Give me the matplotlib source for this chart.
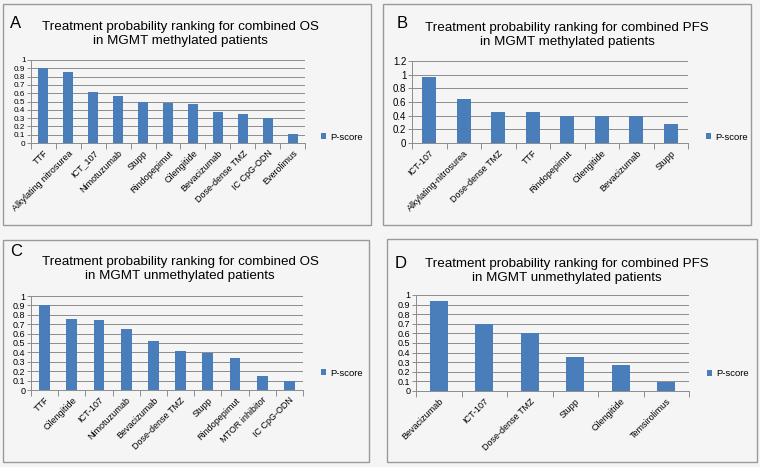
import matplotlib
matplotlib.use("Agg")
import matplotlib.pyplot as plt
from matplotlib.patches import Rectangle
import numpy as np

plt.rcParams['font.family'] = ['Liberation Sans', 'DejaVu Sans']

# ---- data ----
cats_a = ["TTF", "Alkylating nitrosurea", "ICT_107", "Nimotuzumab", "Stupp", "Rindopepimut",
          "Cilengitide", "Bevacizumab", "Dose-dense TMZ", "IC CpG-ODN", "Everolimus"]
vals_a = [0.90, 0.85, 0.61, 0.57, 0.50, 0.48, 0.47, 0.37, 0.35, 0.30, 0.11]

cats_b = ["ICT-107", "Alkylating-nitrosurea", "Dose-dense TMZ", "TTF", "Rindopepimut",
          "Cilengitide", "Bevacizumab", "Stupp"]
vals_b = [0.97, 0.65, 0.45, 0.45, 0.40, 0.40, 0.39, 0.28]

cats_c = ["TTF", "Cilengitide", "ICT-107", "Nimotuzumab", "Bevacizumab", "Dose-dense TMZ",
          "Stupp", "Rindopepimut", "MTOR inhibitor", "IC CpG-ODN"]
vals_c = [0.90, 0.76, 0.75, 0.65, 0.52, 0.42, 0.39, 0.34, 0.15, 0.10]

cats_d = ["Bevacizumab", "ICT-107", "Dose-dense TMZ", "Stupp", "Cilengitide", "Temsirolimus"]
vals_d = [0.94, 0.70, 0.60, 0.35, 0.27, 0.09]

titles = ["Treatment probability ranking for combined OS\nin MGMT methylated patients",
          "Treatment probability ranking for combined PFS\nin MGMT methylated patients",
          "Treatment probability ranking for combined OS\nin MGMT unmethylated patients",
          "Treatment probability ranking for combined PFS\nin MGMT unmethylated patients"]
letters = ["A", "B", "C", "D"]
legend_label = "P-score"

W, H = 760, 467
BG = "#f5f5f5"
BAR = "#4a7ebb"
GRID = "#8c8c8c"

fig = plt.figure(figsize=(W / 100, H / 100), dpi=100, facecolor=BG)

def fx(x):
    return x / W

def fy(y):
    return 1 - y / H

def box(x0, y0, x1, y1):
    fig.patches.append(Rectangle((fx(x0), fy(y1)), fx(x1) - fx(x0), fy(y0) - fy(y1),
                                 transform=fig.transFigure, fill=False,
                                 edgecolor="#9a9a9a", linewidth=1.0))

panels = [
    dict(cats=cats_a, vals=vals_a, box=(3, 4, 371, 225), ax=(31, 60, 305, 143),
         ymax=1.0, step=0.1, yfs=5.9, letter=(10, 23), title=(180, 34), leg=(322, 137)),
    dict(cats=cats_b, vals=vals_b, box=(383, 4, 751, 225), ax=(412, 61, 688, 143),
         ymax=1.2, step=0.2, yfs=7.0, letter=(397, 23), title=(567, 35), leg=(707, 137)),
    dict(cats=cats_c, vals=vals_c, box=(3, 240, 369, 462), ax=(31, 296, 303, 390),
         ymax=1.0, step=0.1, yfs=6.5, letter=(10, 252), title=(180, 269), leg=(322, 373)),
    dict(cats=cats_d, vals=vals_d, box=(387, 239, 757, 462), ax=(416, 295, 689, 391),
         ymax=1.0, step=0.1, yfs=6.5, letter=(395, 264), title=(567, 271), leg=(708, 374)),
]

for i, p in enumerate(panels):
    box(*p["box"])
    x0, y0, x1, y1 = p["ax"]
    ax = fig.add_axes([fx(x0), fy(y1), fx(x1) - fx(x0), fy(y0) - fy(y1)])
    ax.set_facecolor("none")
    n = len(p["cats"])
    xs = np.arange(n)
    bars = ax.bar(xs, p["vals"], width=0.4, color=BAR, label=legend_label, zorder=3)
    ax.set_xlim(-0.5, n - 0.5)
    ax.set_ylim(0, p["ymax"])
    yt = np.round(np.arange(0, p["ymax"] + 1e-9, p["step"]), 2)
    ax.set_yticks(yt)
    ax.set_yticklabels(["{:g}".format(v) for v in yt], fontsize=p["yfs"])
    ax.yaxis.grid(True, color=GRID, linewidth=0.7, zorder=0)
    ax.set_xticks(xs)
    ax.set_xticklabels(p["cats"], rotation=45, ha="right", rotation_mode="anchor", fontsize=6.5)
    ax.set_xticks(np.arange(-0.5, n, 1.0), minor=True)
    ax.tick_params(axis="x", which="major", length=0, pad=4)
    ax.tick_params(axis="x", which="minor", length=4, color=GRID, width=0.7)
    ax.tick_params(axis="y", length=3, color=GRID, width=0.7, pad=1)
    for s in ["top", "right"]:
        ax.spines[s].set_visible(False)
    for s in ["left", "bottom"]:
        ax.spines[s].set_color(GRID)
        ax.spines[s].set_linewidth(0.7)
    # title, letter
    lx, ly = p["letter"]
    fig.text(fx(lx), fy(ly), letters[i], fontsize=12, ha="left", va="center")
    tx, ty = p["title"]
    fig.text(fx(tx), fy(ty), titles[i], fontsize=9.6, ha="center", va="center",
             linespacing=1.25, multialignment="center")
    # legend
    gx, gy = p["leg"]
    fig.legend(handles=[bars], labels=[legend_label], loc="center left",
               bbox_to_anchor=(fx(gx - 6), fy(gy)), frameon=False, fontsize=6.8,
               handlelength=0.6, handleheight=0.6, handletextpad=0.4, borderpad=0)

fig.savefig("out.png", dpi=100, facecolor=BG)
